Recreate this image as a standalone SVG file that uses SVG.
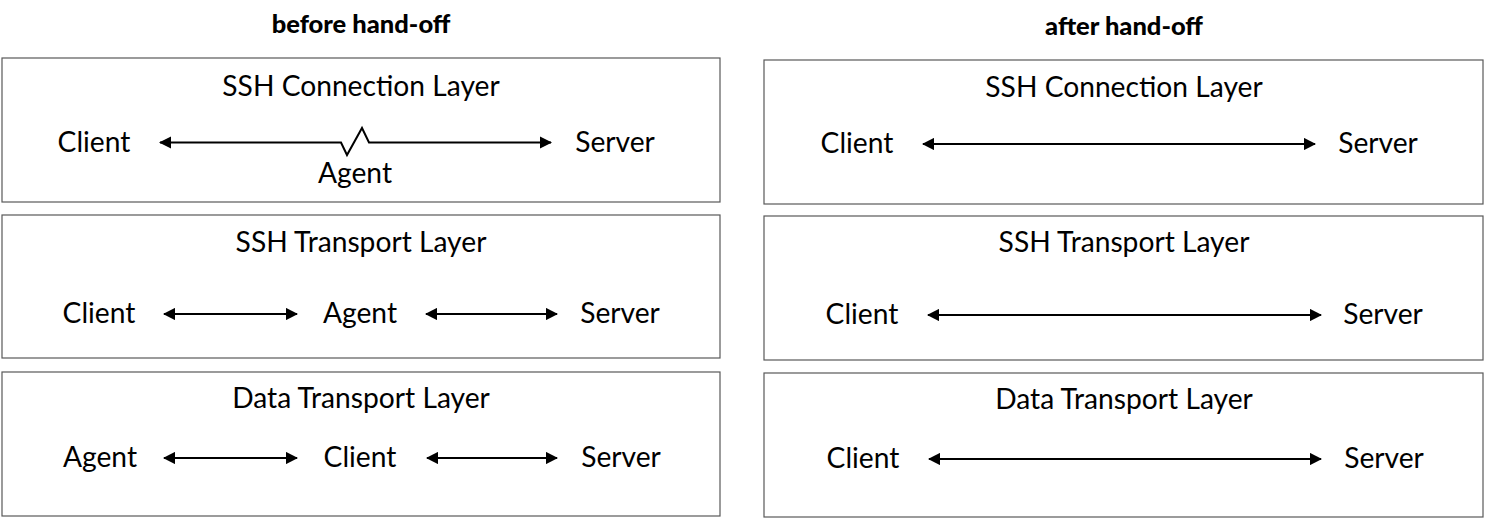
<svg xmlns="http://www.w3.org/2000/svg" width="1485" height="518" viewBox="0 0 1485 518">
<style>
.box{fill:#fff;stroke:#595959;stroke-width:1.2}
.t{font-family:Lato,"Liberation Sans",sans-serif;font-size:28.2px;fill:#000;text-anchor:middle}
.h{font-family:Lato,"Liberation Sans",sans-serif;font-size:25.5px;font-weight:900;fill:#000;text-anchor:middle}
.c{fill:none;stroke:#000;stroke-width:2}
</style>
<defs>
<marker id="a" viewBox="0 0 10 10" refX="9" refY="5" markerWidth="6.2" markerHeight="6.2" orient="auto-start-reverse" markerUnits="strokeWidth"><path d="M0,0L10,5L0,10z" fill="#000"/></marker>
</defs>
<rect width="1485" height="518" fill="#fff"/>
<text class="h" x="361" y="33">before hand-off</text>
<text class="h" x="1124" y="35">after hand-off</text>
<g id="left-connection">
<rect class="box" x="2" y="58" width="718" height="144"/>
<text class="t" x="361" y="96">SSH Connection Layer</text>
<text class="t" x="94" y="152">Client</text>
<text class="t" x="615" y="152">Server</text>
<text class="t" x="355" y="183">Agent</text>
</g>
<g id="left-transport">
<rect class="box" x="2" y="215" width="718" height="143"/>
<text class="t" x="361" y="252">SSH Transport Layer</text>
<text class="t" x="99" y="323">Client</text>
<text class="t" x="360" y="323">Agent</text>
<text class="t" x="620" y="323">Server</text>
</g>
<g id="left-data">
<rect class="box" x="2" y="372" width="718" height="144"/>
<text class="t" x="361" y="408">Data Transport Layer</text>
<text class="t" x="100" y="467">Agent</text>
<text class="t" x="360" y="467">Client</text>
<text class="t" x="621" y="467">Server</text>
</g>
<g id="right-connection">
<rect class="box" x="764" y="60" width="719" height="144"/>
<text class="t" x="1124" y="97">SSH Connection Layer</text>
<text class="t" x="857" y="153">Client</text>
<text class="t" x="1378" y="153">Server</text>
</g>
<g id="right-transport">
<rect class="box" x="764" y="216" width="719" height="144"/>
<text class="t" x="1124" y="252">SSH Transport Layer</text>
<text class="t" x="862" y="324">Client</text>
<text class="t" x="1383" y="324">Server</text>
</g>
<g id="right-data">
<rect class="box" x="764" y="373" width="719" height="144"/>
<text class="t" x="1124" y="409">Data Transport Layer</text>
<text class="t" x="863" y="468">Client</text>
<text class="t" x="1384" y="468">Server</text>
</g>
<g id="connectors">
<path class="c" d="M160,142.5H341L347,155L362,128L369,142.5H551" marker-start="url(#a)" marker-end="url(#a)"/>
<path class="c" d="M164,314H297" marker-start="url(#a)" marker-end="url(#a)"/>
<path class="c" d="M426,314H557" marker-start="url(#a)" marker-end="url(#a)"/>
<path class="c" d="M164,458H297" marker-start="url(#a)" marker-end="url(#a)"/>
<path class="c" d="M427,458H557" marker-start="url(#a)" marker-end="url(#a)"/>
<path class="c" d="M923,144H1315" marker-start="url(#a)" marker-end="url(#a)"/>
<path class="c" d="M928,315H1321" marker-start="url(#a)" marker-end="url(#a)"/>
<path class="c" d="M929,459H1321" marker-start="url(#a)" marker-end="url(#a)"/>
</g>
</svg>
